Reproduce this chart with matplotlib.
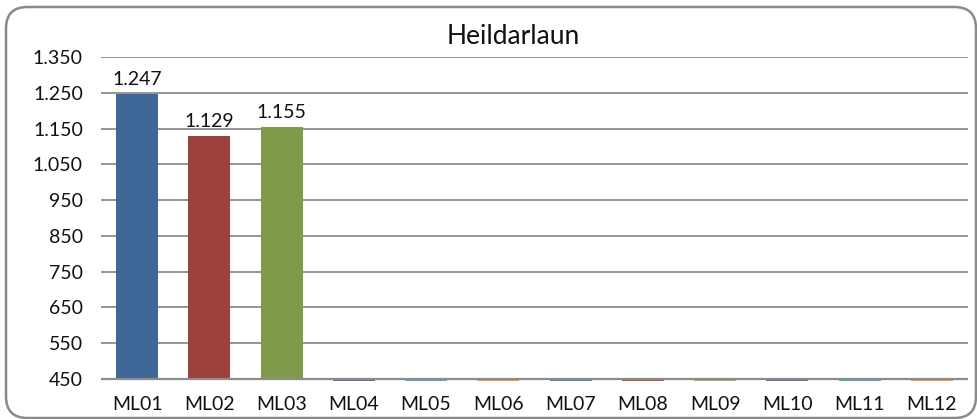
import numpy as np
import matplotlib
matplotlib.use("Agg")
import matplotlib.pyplot as plt
from matplotlib.patches import FancyBboxPatch
from matplotlib.ticker import FuncFormatter

# data
months = ["ML01", "ML02", "ML03", "ML04", "ML05", "ML06",
          "ML07", "ML08", "ML09", "ML10", "ML11", "ML12"]
values = [1247, 1129, 1155, 0, 0, 0, 0, 0, 0, 0, 0, 0]
colors = ["#3F6899", "#9E403D", "#7F9A48", "#7D60A0", "#4AACC6", "#F79646",
          "#4F81BD", "#C0504D", "#9BBB59", "#8064A2", "#4BACC6", "#F79646"]
yticks = [450, 550, 650, 750, 850, 950, 1050, 1150, 1250, 1350]

plt.rcParams['font.family'] = ['Lato', 'DejaVu Sans']

W, H = 977, 419
ymin, ymax = 450, 1350
low = ymin - 9          # a little room under the axis for the zero bars
px_per_unit = 322 / (ymax - ymin)
ax_h = (ymax - low) * px_per_unit

fig = plt.figure(figsize=(W / 100, H / 100), dpi=100)
ax = fig.add_axes([101 / W, (H - 57 - ax_h) / H, 867 / W, ax_h / H])

# rounded chart frame
frame = FancyBboxPatch((6 / W, 1 / H), 970 / W, 411 / H,
                       boxstyle="round,pad=0,rounding_size=0.022",
                       transform=fig.transFigure, facecolor="white",
                       edgecolor="#8A8A8A", linewidth=1.8,
                       mutation_aspect=W / H, zorder=-10)
fig.patches.append(frame)

# bars start at the axis minimum; zero values show as a thin sliver
# just under the axis, like Excel does
vals = np.array(values, dtype=float)
x = np.arange(len(months))
heights = np.where(vals > ymin, vals - ymin, -5)
ax.bar(x, heights, bottom=ymin, width=0.58, color=colors, zorder=3)

for xi, v in zip(x, values):
    if v > ymin:
        ax.text(xi, v + 16, f"{v:,}".replace(",", "."), ha="center",
                va="bottom", fontsize=14, color="#111111")

ax.set_ylim(low, ymax)
ax.set_xlim(-0.5, len(months) - 0.5)
ax.set_yticks(yticks)
ax.yaxis.set_major_formatter(FuncFormatter(lambda v, p: f"{int(v):,}".replace(",", ".")))
ax.set_xticks(x)
ax.set_xticklabels(months)
ax.tick_params(axis="both", length=0, labelsize=14, colors="#111111")
ax.tick_params(axis="y", pad=13)
ax.tick_params(axis="x", pad=10)

for t in yticks[1:]:
    ax.axhline(t, color="#8C8C8C", linewidth=1.3, zorder=1)
ax.axhline(ymin, color="#8C8C8C", linewidth=1.6, zorder=4)

for s in ax.spines.values():
    s.set_visible(False)
ax.patch.set_alpha(0)

fig.text(513 / W, 1 - 37 / H, "Heildarlaun", ha="center", va="center",
         fontsize=19, color="#111111")

fig.savefig("out.png", dpi=100)
